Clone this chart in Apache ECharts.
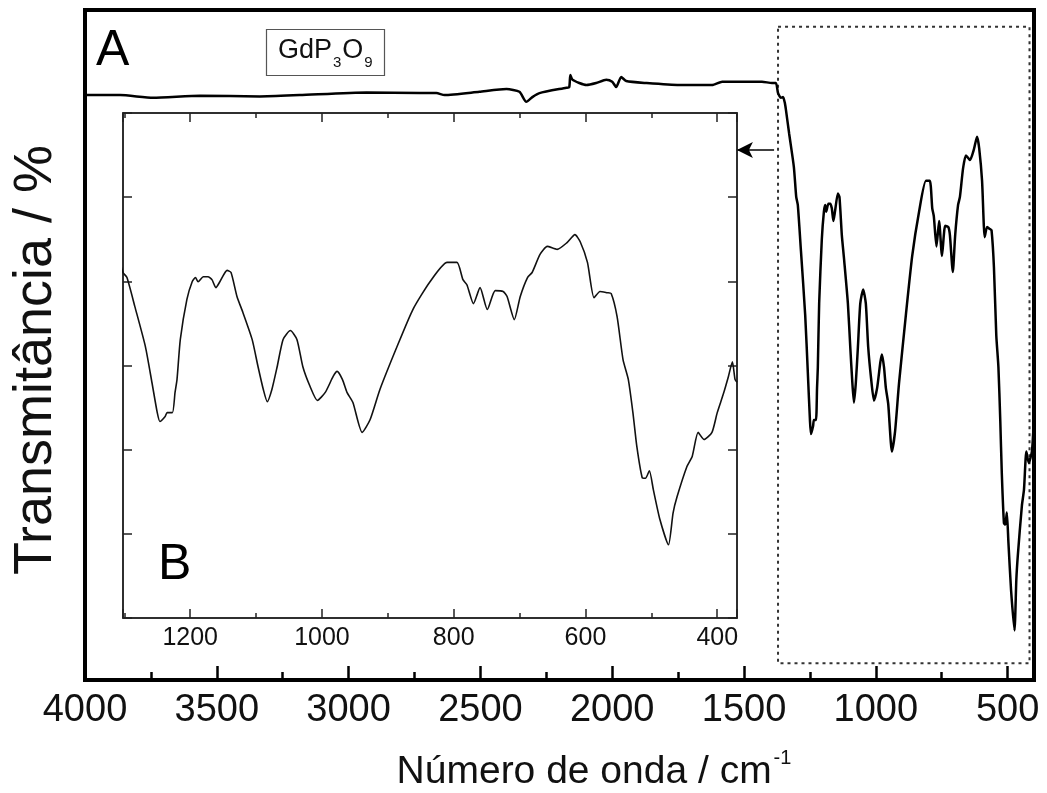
<!DOCTYPE html>
<html><head><meta charset="utf-8">
<script src="https://cdn.jsdelivr.net/npm/echarts@6/dist/echarts.min.js"></script>
<style>html,body{margin:0;padding:0;background:#fff}#c{width:1047px;height:793px}</style>
</head><body><div id="c"></div>
<script>
// Wavenumber (cm^-1), descending
const wavenumber = [4000, 3867, 3742, 3564, 3337, 3186, 2932, 2731, 2667, 2636, 2504, 2401, 2352, 2326, 2303, 2276, 2174, 2163, 2159, 2151, 2125, 2098, 2061, 2023, 2000, 1985, 1966, 1947, 1871, 1746, 1621, 1583, 1432, 1394, 1379, 1371, 1360, 1352, 1345, 1341, 1329, 1311, 1302, 1296, 1284, 1268, 1258, 1250, 1246, 1238, 1235, 1227, 1223, 1220, 1215, 1205, 1197, 1192, 1188, 1180, 1173, 1167, 1161, 1155, 1144, 1138, 1129, 1120, 1106, 1097, 1089, 1083, 1076, 1068, 1059, 1048, 1038, 1029, 1018, 1007, 995, 983, 977, 969, 962, 953, 939, 927, 912, 886, 862, 836, 810, 795, 786, 780, 770, 760, 749, 737, 725, 719, 708, 699, 688, 681, 669, 658, 643, 628, 616, 608, 597, 587, 578, 567, 561, 552, 543, 535, 528, 522, 514, 509, 503, 497, 487, 474, 467, 461, 446, 438, 429, 420, 408, 400, 391, 383, 377, 373, 370];
// Transmittance (arbitrary %)
const transmittance = [97.3, 97.3, 96.9, 97.2, 97.1, 97.3, 97.7, 97.6, 97.6, 97.3, 97.8, 98.2, 97.8, 96.3, 97.0, 97.6, 98.4, 98.5, 100.3, 99.6, 99.1, 98.8, 99.1, 99.6, 99.3, 98.5, 100.0, 99.4, 99.1, 98.8, 98.8, 99.3, 99.3, 99.1, 99.1, 97.6, 96.9, 97.0, 96.1, 95.1, 91.6, 86.6, 82.1, 80.9, 74.0, 64.5, 55.9, 48.8, 46.7, 47.9, 48.8, 48.8, 53.6, 56.7, 66.2, 75.7, 79.9, 80.9, 79.9, 81.1, 81.1, 80.4, 78.5, 79.9, 82.6, 82.1, 76.4, 72.6, 66.2, 59.7, 54.3, 51.4, 54.3, 59.7, 66.2, 68.3, 66.2, 59.7, 55.0, 51.7, 53.6, 57.4, 58.6, 56.7, 53.6, 51.2, 44.1, 47.1, 54.3, 64.5, 73.3, 79.9, 84.5, 84.5, 80.4, 79.2, 74.7, 78.5, 73.3, 77.8, 77.6, 76.4, 70.9, 76.4, 80.9, 82.1, 86.4, 88.3, 87.6, 89.2, 91.1, 89.4, 84.5, 76.1, 77.6, 77.3, 77.1, 71.6, 61.4, 56.7, 48.8, 40.7, 33.4, 33.2, 35.0, 30.5, 23.4, 17.4, 25.0, 28.8, 36.0, 38.4, 44.1, 42.4, 44.1, 48.8, 53.1, 57.4, 60.9, 56.7, 56.0];

const mainXRange = [400, 4000];
const mainYRange = [10, 110];
const insetXRange = [370, 1302];
const insetYRange = [0, 120];
const zoomBox = [[1371, 107.5], [417, 12.5]];
const arrowLine = [[1386, 89.1], [1527, 89.1]];

const FONT = '"Liberation Sans", Arial, Helvetica, sans-serif';
const pts = wavenumber.map((w, i) => [w, transmittance[i]]);
const plain = v => String(Math.round(v));

const chart = echarts.init(document.getElementById('c'), null, {renderer: 'canvas'});
const option = {
  backgroundColor: '#fff',
  animation: false,
  title: {
    text: '{m|GdP}{s|3}{m|O}{s|9}',
    left: 266, top: 24,
    padding: [8, 11, 6, 12],
    borderColor: '#555', borderWidth: 1.2,
    textStyle: {
      fontWeight: 'normal',
      rich: {
        m: {fontFamily: FONT, fontSize: 27, fontWeight: 'normal', color: '#111', lineHeight: 32, verticalAlign: 'bottom'},
        s: {fontFamily: FONT, fontSize: 15, fontWeight: 'normal', color: '#111', lineHeight: 16, verticalAlign: 'bottom', padding: [0, 1, -6, 1]}
      }
    }
  },
  grid: [
    {left: 85, right: 13, top: 10, bottom: 113, show: true, borderColor: '#000', borderWidth: 4, backgroundColor: '#fff'},
    {left: 123, right: 310, top: 113, bottom: 175, show: true, borderColor: '#222', borderWidth: 1.5, backgroundColor: '#fff', z: 5}
  ],
  xAxis: [
    {gridIndex: 0, type: 'value', inverse: true, min: mainXRange[0], max: mainXRange[1],
     minInterval: 500, maxInterval: 500,
     axisLine: {show: true, onZero: false, lineStyle: {color: '#000', width: 4}},
     axisTick: {show: true, inside: true, length: 14, lineStyle: {color: '#000', width: 2.5}},
     minorTick: {show: true, splitNumber: 2, length: 8, lineStyle: {color: '#000', width: 2.5}},
     axisLabel: {show: true, showMinLabel: false, formatter: plain, fontFamily: FONT, fontSize: 38, color: '#111', margin: 12},
     splitLine: {show: false}},
    {gridIndex: 1, type: 'value', inverse: true, min: insetXRange[0], max: insetXRange[1],
     minInterval: 200, maxInterval: 200,
     axisLine: {show: true, onZero: false, lineStyle: {color: '#222', width: 1.5}},
     axisTick: {show: true, inside: true, length: 9, lineStyle: {color: '#222', width: 1.5}},
     minorTick: {show: true, splitNumber: 2, length: 5, lineStyle: {color: '#222', width: 1.5}},
     axisLabel: {show: true, showMinLabel: false, showMaxLabel: false, formatter: plain, fontFamily: FONT, fontSize: 25, color: '#111', margin: 8},
     splitLine: {show: false}, z: 6},
    {gridIndex: 1, type: 'value', position: 'top', inverse: true, min: insetXRange[0], max: insetXRange[1],
     minInterval: 200, maxInterval: 200,
     axisLine: {show: true, onZero: false, lineStyle: {color: '#222', width: 1.5}},
     axisTick: {show: true, inside: true, length: 9, lineStyle: {color: '#222', width: 1.5}},
     minorTick: {show: true, splitNumber: 2, length: 5, lineStyle: {color: '#222', width: 1.5}},
     axisLabel: {show: false}, splitLine: {show: false}, z: 6}
  ],
  yAxis: [
    {gridIndex: 0, type: 'value', min: mainYRange[0], max: mainYRange[1],
     axisLine: {show: false}, axisTick: {show: false}, axisLabel: {show: false}, splitLine: {show: false}},
    {gridIndex: 1, type: 'value', min: insetYRange[0], max: insetYRange[1], interval: 20,
     axisLine: {show: true, onZero: false, lineStyle: {color: '#222', width: 1.5}},
     axisTick: {show: true, inside: true, length: 9, lineStyle: {color: '#222', width: 1.5}},
     axisLabel: {show: false}, splitLine: {show: false}, z: 6},
    {gridIndex: 1, type: 'value', position: 'right', min: insetYRange[0], max: insetYRange[1], interval: 20,
     axisLine: {show: true, onZero: false, lineStyle: {color: '#222', width: 1.5}},
     axisTick: {show: true, inside: true, length: 9, lineStyle: {color: '#222', width: 1.5}},
     axisLabel: {show: false}, splitLine: {show: false}, z: 6}
  ],
  series: [
    {name: 'GdP3O9', type: 'line', xAxisIndex: 0, yAxisIndex: 0, data: pts,
     showSymbol: false, smooth: 0.2, lineStyle: {color: '#000', width: 2.5}, z: 3,
     markArea: {silent: true, itemStyle: {color: 'rgba(0,0,0,0)', borderColor: '#333', borderWidth: 2, borderType: [3, 4]},
       data: [[{coord: zoomBox[0]}, {coord: zoomBox[1]}]]},
     markLine: {silent: true, symbol: ['none', 'arrow'], symbolSize: [12, 16], label: {show: false},
       lineStyle: {color: '#000', width: 1.5, type: 'solid'},
       data: [[{coord: arrowLine[0]}, {coord: arrowLine[1]}]]}},
    {name: 'GdP3O9 (detalhe)', type: 'line', xAxisIndex: 1, yAxisIndex: 1, data: pts,
     showSymbol: false, smooth: 0.2, lineStyle: {color: '#111', width: 1.6}, z: 7}
  ],
  graphic: [
    {type: 'text', left: 96, top: 26, z: 20, style: {text: 'A', font: '50px ' + FONT, fill: '#000'}},
    {type: 'text', left: 158, top: 540, z: 20, style: {text: 'B', font: '50px ' + FONT, fill: '#000'}},
    {type: 'text', x: 36, y: 360, rotation: Math.PI / 2, z: 20,
     style: {text: 'Transmitância / %', font: '54px ' + FONT, fill: '#111', align: 'center', verticalAlign: 'middle'}},
    {type: 'text', x: 594, y: 770, z: 20,
     style: {text: '{m|Número de onda / cm}{s|-1}', align: 'center', verticalAlign: 'middle',
       rich: {m: {font: '39px ' + FONT, fill: '#111', lineHeight: 44, verticalAlign: 'bottom'},
              s: {font: '20px ' + FONT, fill: '#111', lineHeight: 44, verticalAlign: 'top', padding: [0, 0, 18, 2]}}}}
  ]
};
chart.setOption(option);
</script>
</body></html>
